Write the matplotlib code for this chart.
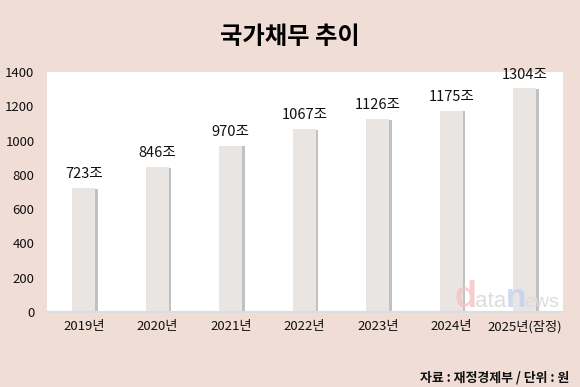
import numpy as np
from matplotlib import pyplot as plt
from matplotlib import patheffects as pe

plt.rcParams['font.family'] = ['Noto Sans CJK KR', 'DejaVu Sans']

years = ['2019년', '2020년', '2021년', '2022년', '2023년', '2024년', '2025년(잠정)']
debt = [723, 846, 970, 1067, 1126, 1175, 1304]
value_labels = ['723조', '846조', '970조', '1067조', '1126조', '1175조', '1304조']
yticks = [0, 200, 400, 600, 800, 1000, 1200, 1400]

bg = '#f0ddd6'
fig = plt.figure(figsize=(5.8, 3.87), dpi=100, facecolor=bg)
ax = fig.add_axes([47 / 580, 1 - 312 / 387, (563 - 47) / 580, 240 / 387])
ax.set_facecolor('white')

x = np.arange(len(years))
bars = ax.bar(x, debt, width=0.31, color='#e9e5e3', zorder=2)
for b in bars:
    b.set_path_effects([pe.SimplePatchShadow(offset=(2, -0.5), shadow_rgbFace='#999999', alpha=0.6),
                        pe.Normal()])

for xi, v, lab in zip(x, debt, value_labels):
    ax.text(xi, v + 40, lab, ha='center', va='bottom', fontsize=10.5, color='#111111')

ax.set_xlim(-0.5, 6.52)
ax.set_ylim(0, 1400)
ax.set_xticks(x)
ax.set_xticklabels(years, fontsize=9.5, color='#111111')
ax.set_yticks(yticks)
ax.set_yticklabels([str(t) for t in yticks], fontsize=9.5, color='#111111')
ax.tick_params(axis='both', length=0)
ax.tick_params(axis='y', pad=9)
ax.tick_params(axis='x', pad=6)
for s in ['top', 'right', 'left']:
    ax.spines[s].set_visible(False)
ax.spines['bottom'].set_color('#dddddd')
ax.spines['bottom'].set_linewidth(1.5)

# watermark "datanews"
base = 1 - 307 / 387
wm = dict(va='baseline', ha='left', family='Liberation Sans')
fig.text(455 / 580, base, 'd', fontsize=26, fontweight='bold', color='#f3c4c4', alpha=0.8, **wm)
fig.text(475 / 580, base, 'ata', fontsize=16, color='#dcdcdc', **wm)
fig.text(506 / 580, base, 'n', fontsize=24, fontweight='bold', color='#c4d0ec', alpha=0.8, **wm)
fig.text(524 / 580, base, 'ews', fontsize=14, color='#dcdcdc', **wm)

fig.text(290 / 580, 1 - 37 / 387, '국가채무 추이', ha='center', va='center', fontsize=17.5, fontweight='heavy')
fig.text(569 / 580, 1 - 378 / 387, '자료 : 재정경제부 / 단위 : 원', ha='right', va='center',
         fontsize=9.3, fontweight='bold', color='#111111')

fig.savefig('out.png', dpi=100, facecolor=bg)
